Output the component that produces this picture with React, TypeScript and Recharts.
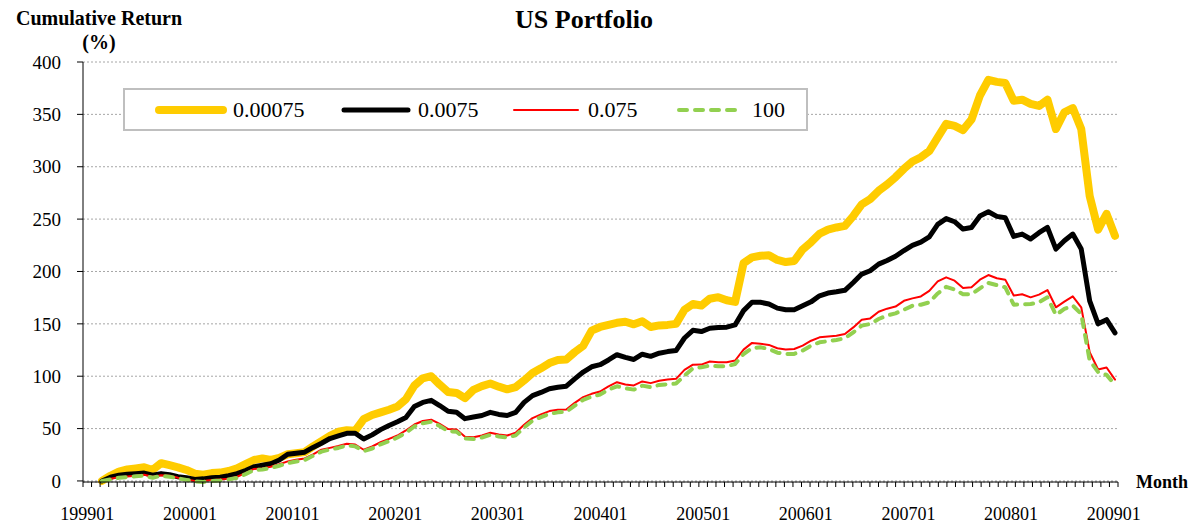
import React from "react";
import { LineChart, Line, XAxis, YAxis, CartesianGrid, Legend } from "recharts";

// month labels 199901 .. 200901
const months: string[] = [];
for (let y = 1999; y <= 2008; y++) {
  for (let m = 1; m <= 12; m++) months.push(`${y}${String(m).padStart(2, "0")}`);
}
months.push("200901");

// cumulative return (%) per transaction-cost level, one row per year
const ret00075 = [
  0, 5, 9, 11, 12, 13, 10.5, 17, 15, 13, 10.5, 7,
  6, 7.5, 8, 9.5, 12, 16, 20, 21.5, 20, 22, 25.5, 26.5,
  27.5, 33, 38, 43, 47, 48.5, 48, 59, 63, 65.5, 68, 71,
  78, 91, 98, 100, 92, 85, 84, 79, 87, 90.5, 93, 90,
  87.5, 89.5, 96, 103, 107.5, 112.5, 115.5, 116, 123, 129, 143.5, 147,
  149, 151, 152, 149.5, 152.5, 147, 148.5, 149, 150, 163.5, 169, 167.5,
  174, 175.5, 172.5, 171, 208, 213.5, 215, 215.5, 211, 209, 210, 221,
  228, 236, 240, 242, 243.5, 253, 264, 269, 277, 283, 290, 298,
  305, 309, 315, 328, 341, 339, 335, 345, 368, 383, 381, 380,
  363, 364, 360, 358, 364, 336, 352, 356, 336, 272, 240, 255,
  234,
];

const ret0075 = [
  0, 3.5, 5.5, 6.5, 7, 7.5, 5.5, 7, 6, 4, 3, 1.5,
  2, 3, 3.5, 5, 7, 10, 13.5, 15, 16.5, 20, 25.5, 26.5,
  27.5, 32, 36, 40.5, 43, 45.5, 45.5, 40, 44, 49, 53, 56.5,
  60.5, 71, 75, 77, 72, 66.5, 65.5, 59.5, 61, 62.5, 65.5, 63.5,
  62.5, 65.5, 75, 81.5, 84.5, 88, 89.5, 90.5, 97.5, 104, 109, 111,
  115.5, 120.5, 118, 116, 121, 119, 122, 123.5, 124.5, 136.5, 143.8, 142.6,
  145.8, 146.4, 146.8, 149, 162.6, 170.6, 170.6, 169, 165, 163.5, 163.5, 167.3,
  171, 176.8, 179.4, 180.6, 182, 189.5, 197.5, 200.7, 207, 210.5, 214.5, 220,
  225, 228, 233, 245, 250.5, 247.5, 240.5, 242, 253, 257, 252.6, 251.3,
  233.5, 235.7, 231, 237, 242, 221.4, 229.4, 235.7, 221.4, 172, 150, 154,
  141.4,
];

const ret075 = [
  0, 2, 3.5, 4.3, 5, 6, 4, 5.5, 5, 3, 1.5, 0,
  0, 1, 1.5, 2, 4, 7.5, 11.5, 12, 13.5, 16, 18.7, 20.3,
  21.5, 25.4, 29.8, 31.6, 33.3, 35.5, 34.8, 29.8, 32.9, 37, 40.2, 43.4,
  48.2, 53.9, 57.2, 58.5, 54.5, 49.5, 49.2, 42.2, 41.8, 43.4, 46, 44.4,
  43.4, 46, 53.6, 60, 63.5, 66.7, 68, 68.3, 74.6, 80, 83.2, 85.4,
  90.3, 94.3, 92.1, 91.2, 95, 93.4, 95.6, 96.9, 97.5, 106, 111, 111.1,
  114, 113.4, 113.4, 115, 125.4, 131.8, 130.9, 129.9, 126.7, 125.4, 126, 129.2,
  133.9, 137.1, 138, 138.7, 140.3, 146.6, 153.9, 155.2, 161.6, 164.5, 166.5, 172,
  174.3, 176.2, 181.5, 190.5, 194.4, 191.2, 184.2, 184.9, 192.2, 196.6, 193.5, 192.2,
  177, 178.2, 175.3, 177.9, 182.3, 165.8, 171.2, 176.3, 165.8, 123, 106.4, 108.3,
  96.8,
];

const ret100 = [
  0, 1.5, 3, 3.8, 4.5, 5, 3, 5, 4, 2.5, 1, -0.5,
  -1, 0, 0.5, 1.5, 3, 6.5, 10.5, 11, 12.5, 14.5, 17, 18.5,
  20, 24, 28, 30, 31.5, 34, 33, 28.5, 31, 35, 38, 41.5,
  46, 52, 55, 56.5, 52.5, 47.5, 47, 40.5, 40, 41.5, 44, 42.5,
  41.5, 43.5, 51, 57.5, 61, 64, 65.5, 66, 72, 77.5, 80.5, 82.5,
  87.2, 90.4, 88.5, 87.2, 91, 89.5, 91.7, 92.3, 93, 100.6, 107.6, 108.5,
  110.1, 109.5, 109.5, 111.7, 121.2, 126.7, 127.6, 126, 122.5, 121.3, 121.3, 124.5,
  129.2, 132.4, 133.4, 134.6, 136.2, 141.9, 148.3, 149.9, 154.6, 158, 160, 163.5,
  167.3, 168.2, 170.5, 179, 185.3, 182.8, 178.2, 178.2, 183.9, 189, 187, 184.9,
  168.3, 168.6, 169, 170.6, 175.3, 158.5, 164.2, 167.4, 159.5, 115, 104, 101.3,
  91.8,
];

const yTicks = [0, 50, 100, 150, 200, 250, 300, 350, 400];

const series = [
  { key: "s1", name: "0.00075", color: "#FFCC00", width: 8, dash: undefined as string | undefined },
  { key: "s2", name: "0.0075", color: "#000000", width: 5, dash: undefined },
  { key: "s3", name: "0.075", color: "#FF0000", width: 2, dash: undefined },
  { key: "s4", name: "100", color: "#92D050", width: 4, dash: "8 8" },
];

const data = months.map((month, i) => ({
  month,
  t: i,
  s1: ret00075[i],
  s2: ret0075[i],
  s3: ret075[i],
  s4: ret100[i],
}));

// tick marks sit between categories, labels every 12 months
const tickValues: number[] = [];
for (let i = 0; i <= months.length; i++) tickValues.push(i - 0.5);
for (let i = 0; i < months.length; i += 12) tickValues.push(i);

const MonthTick = (props: any) => {
  const { x, y, payload } = props;
  const v = payload.value;
  if (Number.isInteger(v)) {
    return (
      <text x={x} y={y + 38} textAnchor="middle" fontSize={18} fill="#000">
        {months[v]}
      </text>
    );
  }
  return <line x1={x} x2={x} y1={y} y2={y + 5} stroke="#000" strokeWidth={1} />;
};

const itemWidths = [185, 170, 165, 110];

const renderLegend = (props: any) => {
  const payload = props.payload || [];
  return (
    <div
      style={{
        boxSizing: "border-box",
        width: 685,
        height: 43,
        border: "2px solid #bfbfbf",
        background: "#fff",
        display: "flex",
        alignItems: "center",
        paddingLeft: 30,
      }}
    >
      {payload.map((p: any, i: number) => {
        const s = series.find((x) => x.name === p.value) || series[i];
        return (
          <div key={s.key} style={{ width: itemWidths[i], display: "flex", alignItems: "center" }}>
            <svg width={72} height={14}>
              <line
                x1={4}
                x2={68}
                y1={7}
                y2={7}
                stroke={s.color}
                strokeWidth={s.width}
                strokeDasharray={s.dash}
                strokeLinecap="round"
              />
            </svg>
            <span style={{ fontSize: 22, marginLeft: 6, color: "#000", lineHeight: "22px" }}>{s.name}</span>
          </div>
        );
      })}
    </div>
  );
};

export default function App() {
  return (
    <div
      style={{
        position: "absolute",
        left: 0,
        top: 0,
        width: 1203,
        height: 527,
        background: "#fff",
        fontFamily: '"Liberation Serif", "Times New Roman", serif',
      }}
    >
      <LineChart width={1203} height={527} data={data} margin={{ top: 62, right: 85, bottom: 5, left: 0 }}>
        <CartesianGrid vertical={false} stroke="#a6a6a6" strokeDasharray="2 2" />
        <XAxis dataKey="month" hide height={0} padding={{ left: 19, right: 3 }} />
        <XAxis
          xAxisId="ticks"
          dataKey="t"
          type="number"
          domain={[-0.5, 120.5]}
          allowDataOverflow
          ticks={tickValues}
          interval={0}
          tickLine={false}
          tickSize={0}
          tickMargin={0}
          tick={<MonthTick />}
          axisLine={{ stroke: "#000" }}
          height={40}
        />
        <YAxis
          domain={[0, 400]}
          ticks={yTicks}
          width={83}
          tickSize={6}
          tickMargin={16}
          tickLine={{ stroke: "#000" }}
          axisLine={{ stroke: "#000" }}
          tick={{ fontSize: 19, fill: "#000" }}
        />
        <Legend
          layout="horizontal"
          verticalAlign="middle"
          align="center"
          content={renderLegend}
          wrapperStyle={{ left: 123, top: 88, width: 685, height: 43 }}
        />
        {series.map((s) => (
          <Line
            key={s.key}
            type="linear"
            dataKey={s.key}
            name={s.name}
            stroke={s.color}
            strokeWidth={s.width}
            strokeDasharray={s.dash}
            strokeLinejoin="round"
            strokeLinecap="round"
            dot={false}
            activeDot={false}
            isAnimationActive={false}
          />
        ))}
      </LineChart>
      <svg
        width={1203}
        height={527}
        style={{ position: "absolute", left: 0, top: 0, pointerEvents: "none" }}
      >
        <text x={584} y={28} textAnchor="middle" fontSize={26} fontWeight="bold" fill="#000">
          US Portfolio
        </text>
        <text x={99} y={25} textAnchor="middle" fontSize={20} fontWeight="bold" fill="#000">
          Cumulative Return
        </text>
        <text x={99} y={49} textAnchor="middle" fontSize={20} fontWeight="bold" fill="#000">
          (%)
        </text>
        <text x={1162} y={488} textAnchor="middle" fontSize={18} fontWeight="bold" fill="#000">
          Month
        </text>
      </svg>
    </div>
  );
}
